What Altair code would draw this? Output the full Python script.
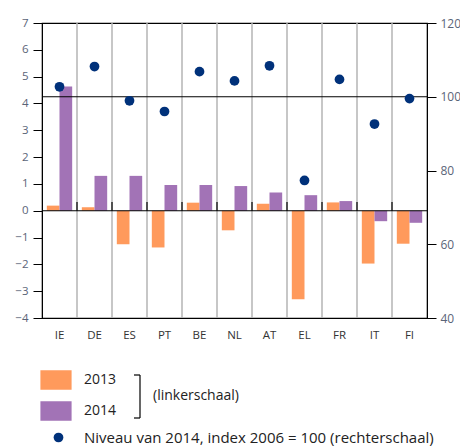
import altair as alt
import pandas as pd

cats = ["IE", "DE", "ES", "PT", "BE", "NL", "AT", "EL", "FR", "IT", "FI"]
v2013 = [0.19, 0.13, -1.25, -1.37, 0.3, -0.73, 0.26, -3.3, 0.31, -1.97, -1.23]
v2014 = [4.63, 1.3, 1.3, 0.96, 0.96, 0.92, 0.68, 0.58, 0.36, -0.39, -0.45]
index2014 = [102.7, 108.2, 98.9, 96.0, 106.8, 104.3, 108.4, 77.3, 104.7, 92.6, 99.5]
years = ["2013", "2014"]
left_ticks = [-4, -3, -2, -1, 0, 1, 2, 3, 4, 5, 6, 7]
right_ticks = [40, 60, 80, 100, 120]
dot_label = "Niveau van 2014, index 2006 = 100 (rechterschaal)"
bracket_label = "(linkerschaal)"

ORANGE = "#ff9a5c"
PURPLE = "#a273b6"
NAVY = "#00317a"
FONT = "Open Sans"

W, H = 385, 295

bars_df = pd.DataFrame(
    {
        "cat": cats * 2,
        "year": [years[0]] * len(cats) + [years[1]] * len(cats),
        "value": v2013 + v2014,
    }
)
dots_df = pd.DataFrame({"cat": cats, "idx": index2014, "lab": [dot_label] * len(cats)})
cats_df = pd.DataFrame({"cat": cats[1:]})

xscale = alt.Scale(domain=cats, paddingInner=0, paddingOuter=0)
xaxis = alt.Axis(
    title=None,
    labelAngle=0,
    ticks=False,
    domainColor="black",
    labelFontSize=11.5,
    labelColor="#333333",
    labelPadding=11,
    labelFont=FONT,
)
yscale_left = alt.Scale(domain=[-4, 7], nice=False, zero=False)
yaxis_left = alt.Axis(
    title=None,
    values=left_ticks,
    tickCount=12,
    grid=False,
    labelOverlap=False,
    domainColor="black",
    tickColor="black",
    tickSize=9,
    labelPadding=5,
    labelFontSize=11.5,
    labelColor="#5a6478",
    labelFont=FONT,
)

bars = (
    alt.Chart(bars_df)
    .mark_bar()
    .encode(
        x=alt.X("cat:N", sort=cats, scale=xscale, axis=xaxis),
        xOffset=alt.XOffset(
            "year:N", scale=alt.Scale(domain=years, paddingInner=0, paddingOuter=0.38)
        ),
        y=alt.Y("value:Q", scale=yscale_left, axis=yaxis_left),
        color=alt.Color(
            "year:N",
            scale=alt.Scale(domain=years, range=[ORANGE, PURPLE]),
            legend=alt.Legend(
                title=None,
                orient="none",
                legendX=4,
                legendY=347,
                symbolType="M-1.6,-1L1.6,-1L1.6,1L-1.6,1Z",
                symbolSize=380,
                symbolStrokeWidth=0,
                symbolOpacity=1,
                labelFontSize=14,
                labelFont=FONT,
                labelColor="#222222",
                labelOffset=18,
                rowPadding=11,
                padding=0,
            ),
        ),
    )
)

grid = (
    alt.Chart(cats_df)
    .mark_rule(color="#b5b5b5", strokeWidth=1.5)
    .encode(
        x=alt.X("cat:N", sort=cats, bandPosition=0),
        y=alt.datum(-4),
        y2=alt.datum(7),
    )
)

zero_ticks = (
    alt.Chart(cats_df)
    .mark_rule(color="black", strokeWidth=1.2)
    .encode(
        x=alt.X("cat:N", sort=cats, bandPosition=0),
        y=alt.datum(0),
        y2=alt.datum(0.33),
    )
)

zero_line = (
    alt.Chart(pd.DataFrame({"z": [0]}))
    .mark_rule(color="black", strokeWidth=1.2)
    .encode(y=alt.datum(0))
)

left = alt.layer(bars, grid, zero_ticks, zero_line)

yscale_right = alt.Scale(domain=[40, 120], nice=False, zero=False)
line100 = (
    alt.Chart(pd.DataFrame({"v": [100]}))
    .mark_rule(color="black", strokeWidth=1.2)
    .encode(
        y=alt.Y(
            "v:Q",
            scale=yscale_right,
            axis=alt.Axis(
                title=None,
                orient="right",
                values=right_ticks,
                grid=False,
                labelOverlap=False,
                domainColor="black",
                tickColor="black",
                tickSize=9,
                labelPadding=4,
                labelFontSize=12,
                labelColor="#5a6478",
                labelFont=FONT,
            ),
        )
    )
)

dots = (
    alt.Chart(dots_df)
    .mark_point(filled=True, size=95, color=NAVY, opacity=1)
    .encode(
        x=alt.X("cat:N", sort=cats),
        y=alt.Y("idx:Q"),
        shape=alt.Shape(
            "lab:N",
            scale=alt.Scale(range=["circle"]),
            legend=alt.Legend(
                title=None,
                orient="none",
                legendX=9,
                legendY=407,
                symbolSize=95,
                symbolFillColor=NAVY,
                symbolStrokeWidth=0,
                labelFontSize=15,
                labelFont=FONT,
                labelColor="#222222",
                labelOffset=18,
                padding=0,
                labelLimit=500,
            ),
        ),
    )
)

right = alt.layer(line100, dots)

bracket_v = (
    alt.Chart(pd.DataFrame({"b": [0]}))
    .mark_rule(color="black", strokeWidth=1.2)
    .encode(x=alt.value(98), y=alt.value(352), y2=alt.value(395))
)
bracket_t = (
    alt.Chart(pd.DataFrame({"b": [0]}))
    .mark_rule(color="black", strokeWidth=1.2)
    .encode(x=alt.value(92), x2=alt.value(98), y=alt.value(352))
)
bracket_b = (
    alt.Chart(pd.DataFrame({"b": [0]}))
    .mark_rule(color="black", strokeWidth=1.2)
    .encode(x=alt.value(92), x2=alt.value(98), y=alt.value(395))
)
bracket_text = (
    alt.Chart(pd.DataFrame({"b": [0]}))
    .mark_text(
        align="left",
        baseline="middle",
        fontSize=14,
        font=FONT,
        color="#222222",
        text=bracket_label,
    )
    .encode(x=alt.value(111), y=alt.value(373))
)

chart = (
    alt.layer(left, right, bracket_v, bracket_t, bracket_b, bracket_text)
    .resolve_scale(y="independent", color="independent", shape="independent")
    .properties(
        width=W,
        height=H,
        autosize=alt.AutoSizeParams(type="none"),
        padding={"left": 34, "top": 15, "right": 33, "bottom": 128},
        background="white",
    )
    .configure_view(stroke="black", strokeWidth=1.2)
)

chart.save("out.html", embed_options={"renderer": "svg", "actions": False})
